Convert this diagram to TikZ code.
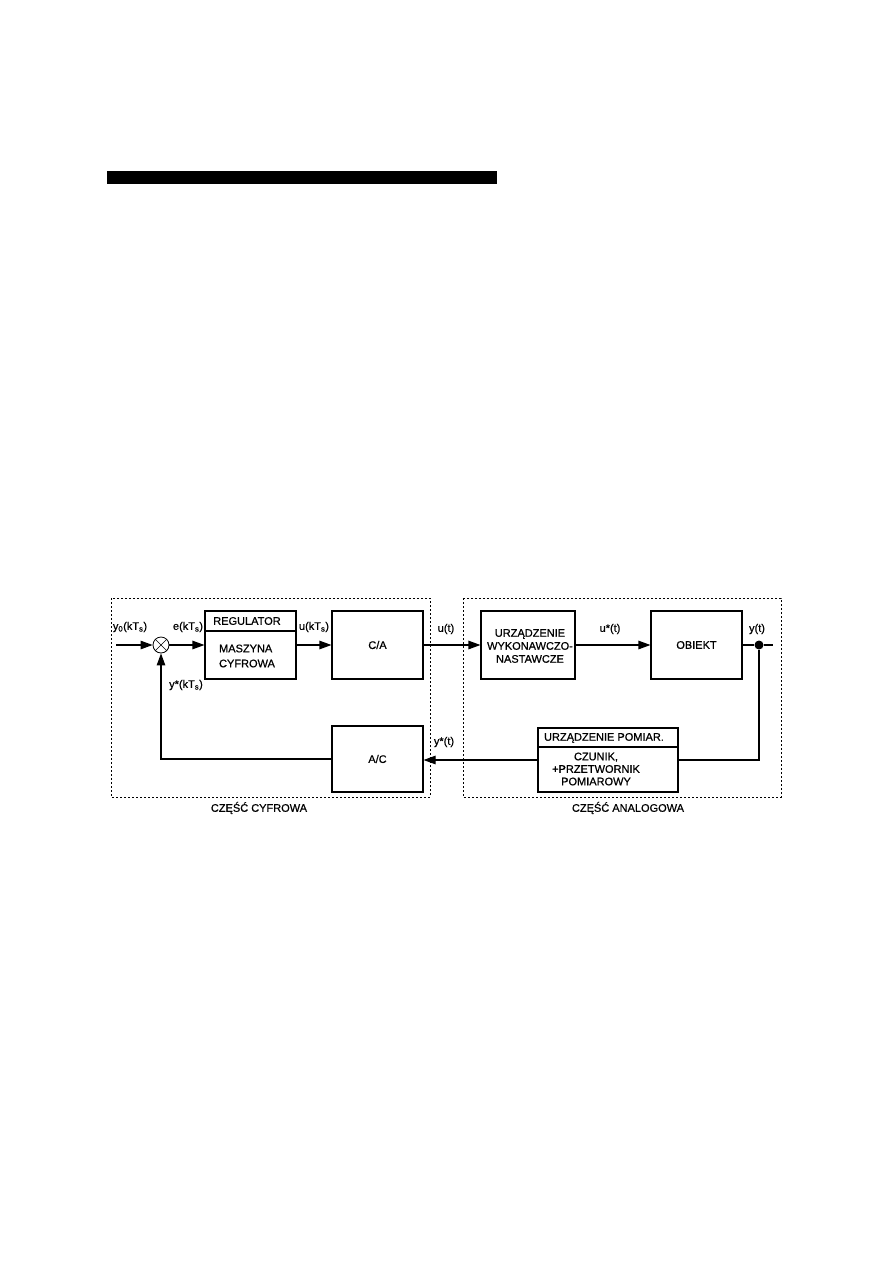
\documentclass[tikz,border=0pt]{standalone}
\usepackage{fontspec}
\setmainfont{Liberation Sans}[FakeBold=0.6]
\usetikzlibrary{arrows.meta}

\begin{document}
\begin{tikzpicture}[x=1pt, y=-1pt, line width=1.1pt,
	every node/.style={font=\fontsize{11}{13}\selectfont, inner sep=0pt},
	blk/.style={draw, rectangle, line width=1.1pt},
	part/.style={draw, line width=0.7pt, dash pattern=on 2pt off 2pt},
	sig/.style={-{Triangle[length=12pt,width=8.5pt]}}]
	\useasboundingbox (0,0) rectangle (893,1263);
	% heading bar
	\fill (107,171) rectangle (497,184);
	% the two parts
	\draw[part] (111,598) rectangle (430,797);
	\draw[part] (463,598) rectangle (781,797);
	\node (cyf) at (259,808) {CZĘŚĆ CYFROWA};
	\node (ana) at (628,808) {CZĘŚĆ ANALOGOWA};
	% digital part
	\coordinate (yin) at (116,645);
	\node[draw, circle, minimum size=16pt, line width=0.8pt] (sum) at (161,645) {};
	\draw[line width=0.6pt] (sum.north west) -- (sum.south east);
	\draw[line width=0.6pt] (sum.north east) -- (sum.south west);
	\node[blk, minimum width=91pt, minimum height=68pt] (reg) at (250.5,645) {};
	\draw (reg.west |- 0,631) -- (reg.east |- 0,631);
	\node (regt) at (247,621) {REGULATOR};
	\node[align=left, font=\fontsize{11}{15}\selectfont] (maszt) at (247,656) {MASZYNA\\CYFROWA};
	\node[blk, minimum width=91pt, minimum height=68pt] (ca) at (377.5,645) {C/A};
	\node[blk, minimum width=91pt, minimum height=66pt] (ac) at (377.5,759) {A/C};
	% analog part
	\node[blk, minimum width=94pt, minimum height=68pt] (urz) at (528,645) {};
	\node[align=center, font=\fontsize{11}{13}\selectfont] (urzt) at (530,646) {URZĄDZENIE\\WYKONAWCZO-\\NASTAWCZE};
	\node[blk, minimum width=91pt, minimum height=68pt] (obj) at (696.5,645) {OBIEKT};
	\node[circle, fill, minimum size=9pt] (tap) at (759,645) {};
	\coordinate (yout) at (773,645);
	\node[blk, minimum width=140pt, minimum height=64pt] (pom) at (608,760) {};
	\draw (pom.west |- 0,747) -- (pom.east |- 0,747);
	\node (pomt) at (604,738) {URZĄDZENIE POMIAR.};
	\node[align=center, font=\fontsize{11}{12.5}\selectfont] (czt) at (596,769) {CZUNIK,\\+PRZETWORNIK\\POMIAROWY};
	% forward path
	\draw[sig] (yin) -- (sum.west);
	\draw[sig] (sum.east) -- (reg.west);
	\draw[sig] (reg.east) -- (ca.west);
	\draw[sig] (ca.east) -- (urz.west);
	\draw[sig] (urz.east) -- (obj.west);
	\draw (obj.east) -- (tap) -- (yout);
	% feedback path
	\draw (tap) |- (pom.east);
	\draw[sig] (pom.west) -- (pom.west -| ac.east);
	\draw[sig] (ac.west) -| (sum.south);
	% signal labels
	\node (y0) at (130,627) {y\textsubscript{0}(kT\textsubscript{s})};
	\node (e) at (188,627) {e(kT\textsubscript{s})};
	\node (ukt) at (314,627) {u(kT\textsubscript{s})};
	\node (yst) at (186,685) {y*(kT\textsubscript{s})};
	\node (ut) at (446,629) {u(t)};
	\node (ust) at (610,629) {u*(t)};
	\node (yt) at (757,629) {y(t)};
	\node (ystt) at (444,742) {y*(t)};
\end{tikzpicture}
\end{document}
